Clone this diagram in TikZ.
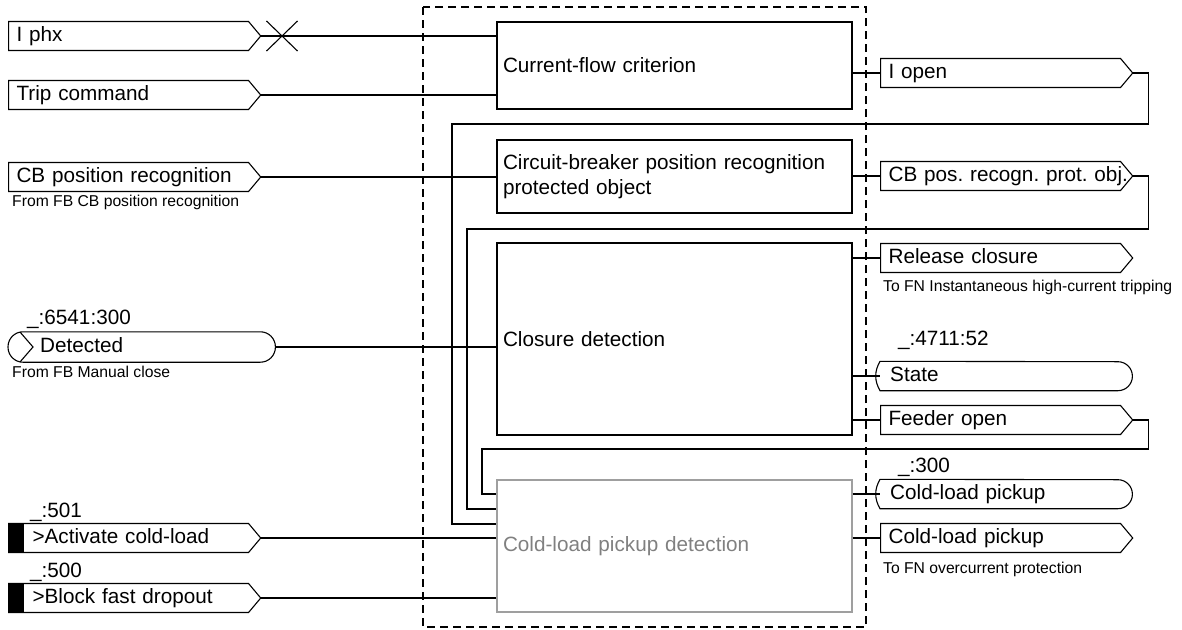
\documentclass[tikz,border=0pt]{standalone}
\usepackage{fontspec}
\setmainfont{Liberation Sans}
\usetikzlibrary{shapes.symbols,shapes.misc}
\frenchspacing
\newcommand{\bigtxt}{\fontsize{20.7}{25}\selectfont}
\newcommand{\smalltxt}{\fontsize{15.7}{18}\selectfont}
\tikzset{
	conn/.style={line width=1.1pt},
	sigbox/.style={signal, signal to=east, signal pointer angle=100, draw, line width=1.1pt, anchor=west,
		minimum height=29pt, inner ysep=0pt, inner xsep=8pt, text width=224pt, align=left,
		text height=14pt, text depth=4pt, font=\bigtxt},
	termbox/.style={rectangle, anchor=west, minimum width=252pt, minimum height=29pt, inner ysep=0pt,
		inner xsep=10pt, text width=232pt, align=left, text height=14pt, text depth=4pt, font=\bigtxt},
	funcblock/.style={draw, line width=1.1pt, text width=343pt, inner xsep=6pt, align=left, font=\bigtxt},
	tagtext/.style={anchor=base west, inner sep=0pt, font=\bigtxt},
	notetext/.style={anchor=base west, inner sep=0pt, font=\smalltxt},
}
\begin{document}
\begin{tikzpicture}[x=1pt, y=1pt, line cap=butt, line join=miter]
	\useasboundingbox (0,0) rectangle (1182,-629);

	% function blocks
	\node[funcblock, minimum height=87pt] (cfc) at (674.5,-65.5) {Current-flow criterion};
	\node[funcblock, minimum height=73pt] (cbr) at (674.5,-176.5) {Circuit-breaker position recognition\\protected object};
	\node[funcblock, minimum height=192pt] (cld) at (674.5,-339) {Closure detection};
	\node[funcblock, minimum height=132pt, draw=gray!75, text=gray] (clp) at (674.5,-546) {Cold-load pickup detection};

	% frame of the function
	\draw[line width=1.1pt, dash pattern=on 8pt off 5pt] (423,-7) rectangle (866,-627);

	% inputs
	\node[sigbox] (iphx) at (8,-36) {I phx};
	\node[sigbox] (trip) at (8,-95) {Trip command};
	\node[sigbox] (cbpos) at (8,-177) {CB position recognition};
	\node[notetext] (cbposnote) at (12,-206) {From FB CB position recognition};

	\node[termbox, minimum width=267pt, minimum height=30pt, inner xsep=32pt, text width=203pt] (det) at (8,-347) {Detected};
	\draw[conn, rounded corners=15pt] (det.north west) rectangle (det.south east);
	\draw[conn] ([shift={(12,15)}]det.west) -- ([xshift=25pt]det.west) -- ([shift={(12,-15)}]det.west);
	\node[tagtext] (dettag) at (27,-324) {\_:6541:300};
	\node[notetext] (detnote) at (12,-377) {From FB Manual close};

	\node[sigbox] (actcl) at (8,-538) {\hspace*{16pt}>Activate cold-load};
	\fill ([yshift=14.5pt]actcl.west) rectangle ([shift={(16,-14.5)}]actcl.west);
	\node[tagtext] (acttag) at (30,-517) {\_:501};
	\node[sigbox] (blkfd) at (8,-598) {\hspace*{16pt}>Block fast dropout};
	\fill ([yshift=14.5pt]blkfd.west) rectangle ([shift={(16,-14.5)}]blkfd.west);
	\node[tagtext] (blktag) at (30,-577) {\_:500};

	\node[cross out, draw, line width=1.1pt, minimum width=30pt, minimum height=29pt, inner sep=0pt] (brk) at (282,-36) {};

	% input connections
	\draw[conn] (iphx.east) -- (iphx.east -| cfc.west);
	\draw[conn] (trip.east) -- (trip.east -| cfc.west);
	\draw[conn] (cbpos.east) -- (cbpos.east -| cbr.west);
	\draw[conn] (det.east) -- (det.east -| cld.west);
	\draw[conn] (actcl.east) -- (actcl.east -| clp.west);
	\draw[conn] (blkfd.east) -- (blkfd.east -| clp.west);

	% outputs
	\node[sigbox] (iopen) at (880,-73) {I open};
	\node[sigbox] (cbout) at (880,-176) {\mbox{CB pos. recogn. prot. obj.}};
	\node[sigbox] (relcl) at (880,-258) {Release closure};
	\node[notetext] (relnote) at (883,-291) {To FN Instantaneous high-current tripping};

	\node[termbox] (state) at (880,-376) {State};
	\draw[conn] (state.north west) to[bend right=30] (state.south west) -- ([xshift=-14.5pt]state.south east)
		arc[start angle=-90, end angle=90, radius=14.5pt] -- cycle;
	\node[tagtext] (statetag) at (898,-345) {\_:4711:52};

	\node[sigbox] (fdopen) at (880,-420) {Feeder open};

	\node[termbox] (clpterm) at (880,-494) {Cold-load pickup};
	\draw[conn] (clpterm.north west) to[bend right=30] (clpterm.south west) -- ([xshift=-14.5pt]clpterm.south east)
		arc[start angle=-90, end angle=90, radius=14.5pt] -- cycle;
	\node[tagtext] (clptag) at (898,-472) {\_:300};

	\node[sigbox] (clpout) at (880,-538) {Cold-load pickup};
	\node[notetext] (clpnote) at (883,-573) {To FN overcurrent protection};

	% output connections
	\draw[conn] (iopen.west -| cfc.east) -- (iopen.west);
	\draw[conn] (cbout.west -| cbr.east) -- (cbout.west);
	\draw[conn] (relcl.west -| cld.east) -- (relcl.west);
	\draw[conn] (state.west -| cld.east) -- (state.west);
	\draw[conn] (fdopen.west -| cld.east) -- (fdopen.west);
	\draw[conn] (clpterm.west -| clp.east) -- (clpterm.west);
	\draw[conn] (clpout.west -| clp.east) -- (clpout.west);

	% feedback into cold-load pickup
	\draw[conn] (iopen.east) -- ++(15,0) |- (452,-124) |- ([yshift=22pt]clp.west);
	\draw[conn] (cbout.east) -- ++(15,0) |- (467,-229) |- ([yshift=37pt]clp.west);
	\draw[conn] (fdopen.east) -- ++(15,0) |- (482,-449) |- ([yshift=52pt]clp.west);
\end{tikzpicture}
\end{document}
